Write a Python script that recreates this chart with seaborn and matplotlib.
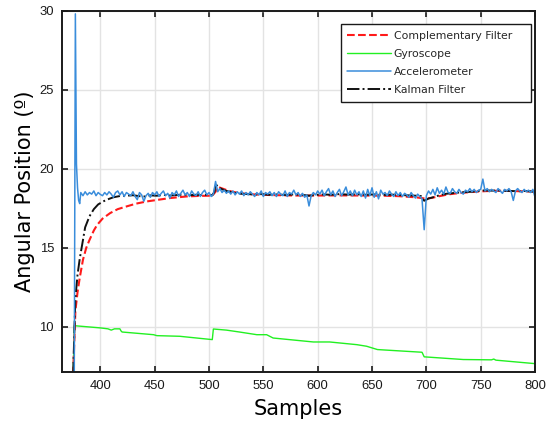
import matplotlib
matplotlib.use("Agg")
import matplotlib.pyplot as plt
import seaborn as sns

# ---- data -------------------------------------------------------------
gyro_x = [375, 376, 400, 407, 410, 413, 418, 419, 420, 449, 452, 473, 500, 503,
          504, 516, 528, 544, 553, 559, 596, 611, 636, 645, 655, 696, 698, 734,
          760, 762, 764, 800]
gyro_y = [7.0, 10.08, 9.94, 9.88, 9.80, 9.88, 9.88, 9.75, 9.68, 9.51, 9.45, 9.41,
          9.22, 9.20, 9.87, 9.80, 9.68, 9.51, 9.51, 9.30, 9.05, 9.05, 8.88, 8.78,
          8.57, 8.40, 8.11, 7.94, 7.92, 7.97, 7.90, 7.68]

acc_head_x = [376, 377, 378, 379, 380, 381]
acc_head_y = [7.0, 29.8, 20.3, 18.8, 18.0, 17.8]
acc_body = [
    18.50, 18.30, 18.55, 18.35, 18.50, 18.40, 18.60, 18.30, 18.50, 18.38,
    18.30, 18.50, 18.35, 18.55, 18.40, 18.20, 18.50, 18.60, 18.35, 18.55,
    18.25, 18.50, 18.40, 18.30, 18.55, 18.25, 18.05, 18.50, 18.35, 17.95,
    18.30, 18.45, 18.20, 18.50, 18.35, 18.55, 18.25, 18.45, 18.60, 18.30,
    18.45, 18.15, 18.50, 18.35, 18.60, 18.25, 18.45, 18.65, 18.35, 18.50,
    18.25, 18.60, 18.40, 18.30, 18.55, 18.25, 18.50, 18.65, 18.35, 18.50,
    18.25, 18.40, 19.20, 18.55, 18.75, 18.50, 18.65, 18.45, 18.60, 18.40,
    18.60, 18.35, 18.55, 18.40, 18.60, 18.30, 18.50, 18.35, 18.55, 18.40,
    18.25, 18.50, 18.35, 18.60, 18.25, 18.50, 18.40, 18.55, 18.30, 18.50,
    18.25, 18.55, 18.40, 18.30, 18.60, 18.25, 18.50, 18.40, 18.65, 18.35,
    18.50, 18.25, 18.45, 18.20, 18.35, 17.65, 18.30, 18.50, 18.35, 18.60,
    18.40, 18.65, 18.30, 18.55, 18.75, 18.35, 18.60, 18.25, 18.50, 18.70,
    18.30, 18.55, 18.85, 18.35, 18.60, 18.30, 18.65, 18.35, 18.55, 18.25,
    18.60, 18.15, 18.70, 18.30, 18.80, 18.20, 18.55, 18.10, 18.65, 18.40,
    18.50, 18.30, 18.60, 18.40, 18.25, 18.55, 18.30, 18.50, 18.25, 18.45,
    18.35, 18.20, 18.50, 18.30, 18.15, 18.40, 18.25, 18.10, 16.15, 18.30,
    18.60, 18.40, 18.70, 18.35, 18.80, 18.45, 18.65, 18.40, 18.85, 18.50,
    18.45, 18.75, 18.55, 18.45, 18.70, 18.50, 18.40, 18.65, 18.55, 18.75,
    18.55, 18.70, 18.50, 18.65, 18.70, 19.35, 18.60, 18.75, 18.55, 18.70,
    18.60, 18.50, 18.75, 18.60, 18.45, 18.70, 18.60, 18.75, 18.55, 18.00,
    18.60, 18.75, 18.60, 18.50, 18.70, 18.55, 18.65, 18.50, 18.70, 18.20,
]
acc_x = acc_head_x + list(range(382, 801, 2))
acc_y = acc_head_y + acc_body

kal_x = [375, 376, 377, 379, 381, 384, 386, 390, 394, 398, 403, 408, 412, 418,
         424, 430, 436, 441, 446, 452, 458, 464, 470, 476, 482, 488, 494, 500,
         503, 505, 506, 508, 511, 515, 519, 524, 530, 536, 542, 548, 555, 562,
         570, 578, 585, 592, 598, 605, 612, 620, 628, 636, 644, 652, 660, 668,
         676, 684, 690, 695, 698, 702, 707, 712, 718, 724, 730, 736, 742, 748,
         754, 760, 766, 772, 778, 784, 790, 796, 800]
kal_y = [7.0, 9.5, 11.8, 13.3, 14.3, 15.5, 16.3, 17.0, 17.45, 17.75, 17.95, 18.1,
         18.2, 18.28, 18.30, 18.33, 18.27, 18.25, 18.32, 18.30, 18.35, 18.31,
         18.34, 18.37, 18.33, 18.36, 18.34, 18.37, 18.32, 18.55, 19.05, 18.88,
         18.74, 18.62, 18.55, 18.47, 18.42, 18.40, 18.37, 18.40, 18.36, 18.38,
         18.35, 18.38, 18.36, 18.30, 18.35, 18.38, 18.36, 18.40, 18.37, 18.39,
         18.36, 18.38, 18.35, 18.37, 18.34, 18.32, 18.30, 18.28, 17.98, 18.12,
         18.22, 18.33, 18.42, 18.46, 18.50, 18.53, 18.55, 18.60, 18.64, 18.62,
         18.63, 18.61, 18.60, 18.58, 18.60, 18.57, 18.55]

comp_x = [375, 376, 377, 379, 381, 384, 387, 390, 394, 397, 402, 409, 416, 424,
          433, 443, 454, 464, 479, 492, 503, 506, 508, 512, 516, 521, 527, 534,
          542, 552, 565, 580, 600, 620, 640, 660, 675, 690, 699, 705, 712, 720,
          728, 736, 745, 755, 765, 775, 788, 800]
comp_y = [7.0, 9.0, 11.0, 12.2, 13.1, 14.25, 15.0, 15.5, 16.1, 16.45, 16.85, 17.2,
          17.45, 17.62, 17.8, 17.94, 18.05, 18.15, 18.25, 18.29, 18.30, 18.55,
          18.86, 18.76, 18.66, 18.56, 18.48, 18.42, 18.38, 18.35, 18.33, 18.31,
          18.31, 18.32, 18.31, 18.30, 18.27, 18.20, 18.12, 18.16, 18.27, 18.38,
          18.45, 18.50, 18.55, 18.59, 18.61, 18.60, 18.58, 18.56]

x_ticks = [400, 450, 500, 550, 600, 650, 700, 750, 800]
y_ticks = [10, 15, 20, 25, 30]

# ---- figure -----------------------------------------------------------
sns.set_theme(style="whitegrid")
plt.rcParams["font.family"] = ["DejaVu Sans"]

fig = plt.figure(figsize=(5.53, 4.24), dpi=100)
ax = fig.add_axes([0.1127, 0.1226, 0.8548, 0.8522])

sns.lineplot(x=gyro_x, y=gyro_y, ax=ax, color="#22f022", linewidth=1.0,
             label="Gyroscope", estimator=None, sort=False)
sns.lineplot(x=comp_x, y=comp_y, ax=ax, color="#ff1a1a", linewidth=1.5,
             linestyle="--", label="Complementary Filter", estimator=None, sort=False)
sns.lineplot(x=kal_x, y=kal_y, ax=ax, color="#111111", linewidth=1.4,
             linestyle="-.", label="Kalman Filter", estimator=None, sort=False)
sns.lineplot(x=acc_x, y=acc_y, ax=ax, color="#3a8ddb", linewidth=1.1,
             label="Accelerometer", estimator=None, sort=False)

ax.set_xlim(365, 800)
ax.set_ylim(7.15, 30)
ax.set_xticks(x_ticks)
ax.set_yticks(y_ticks)
ax.grid(True, color="#e3e3e3", linewidth=1.0)
ax.set_facecolor("white")

for s in ax.spines.values():
    s.set_visible(True)
    s.set_color("#1a1a1a")
    s.set_linewidth(1.4)

ax.tick_params(direction="in", length=4, width=1.2, color="#1a1a1a",
               top=True, right=True, bottom=True, left=True,
               labelsize=9.4, labelcolor="#1a1a1a", pad=6)
for lab in ax.get_xticklabels() + ax.get_yticklabels():
    lab.set_family("Liberation Sans")

ax.set_xlabel("Samples", fontsize=15, color="black", labelpad=5)
ax.set_ylabel("Angular Position (º)", fontsize=15, color="black", labelpad=3)

handles, labels = ax.get_legend_handles_labels()
order = ["Complementary Filter", "Gyroscope", "Accelerometer", "Kalman Filter"]
hmap = dict(zip(labels, handles))
leg = ax.legend([hmap[k] for k in order], order, loc="upper left",
                bbox_to_anchor=(0.589, 0.963, 0.402, 0.0), mode="expand",
                borderaxespad=0, fontsize=7.8, handlelength=4.0,
                handletextpad=0.3, labelspacing=0.76, borderpad=0.6,
                fancybox=False, framealpha=1, edgecolor="#1a1a1a")
leg.get_frame().set_linewidth(1.0)

fig.savefig("out.png", dpi=100)
